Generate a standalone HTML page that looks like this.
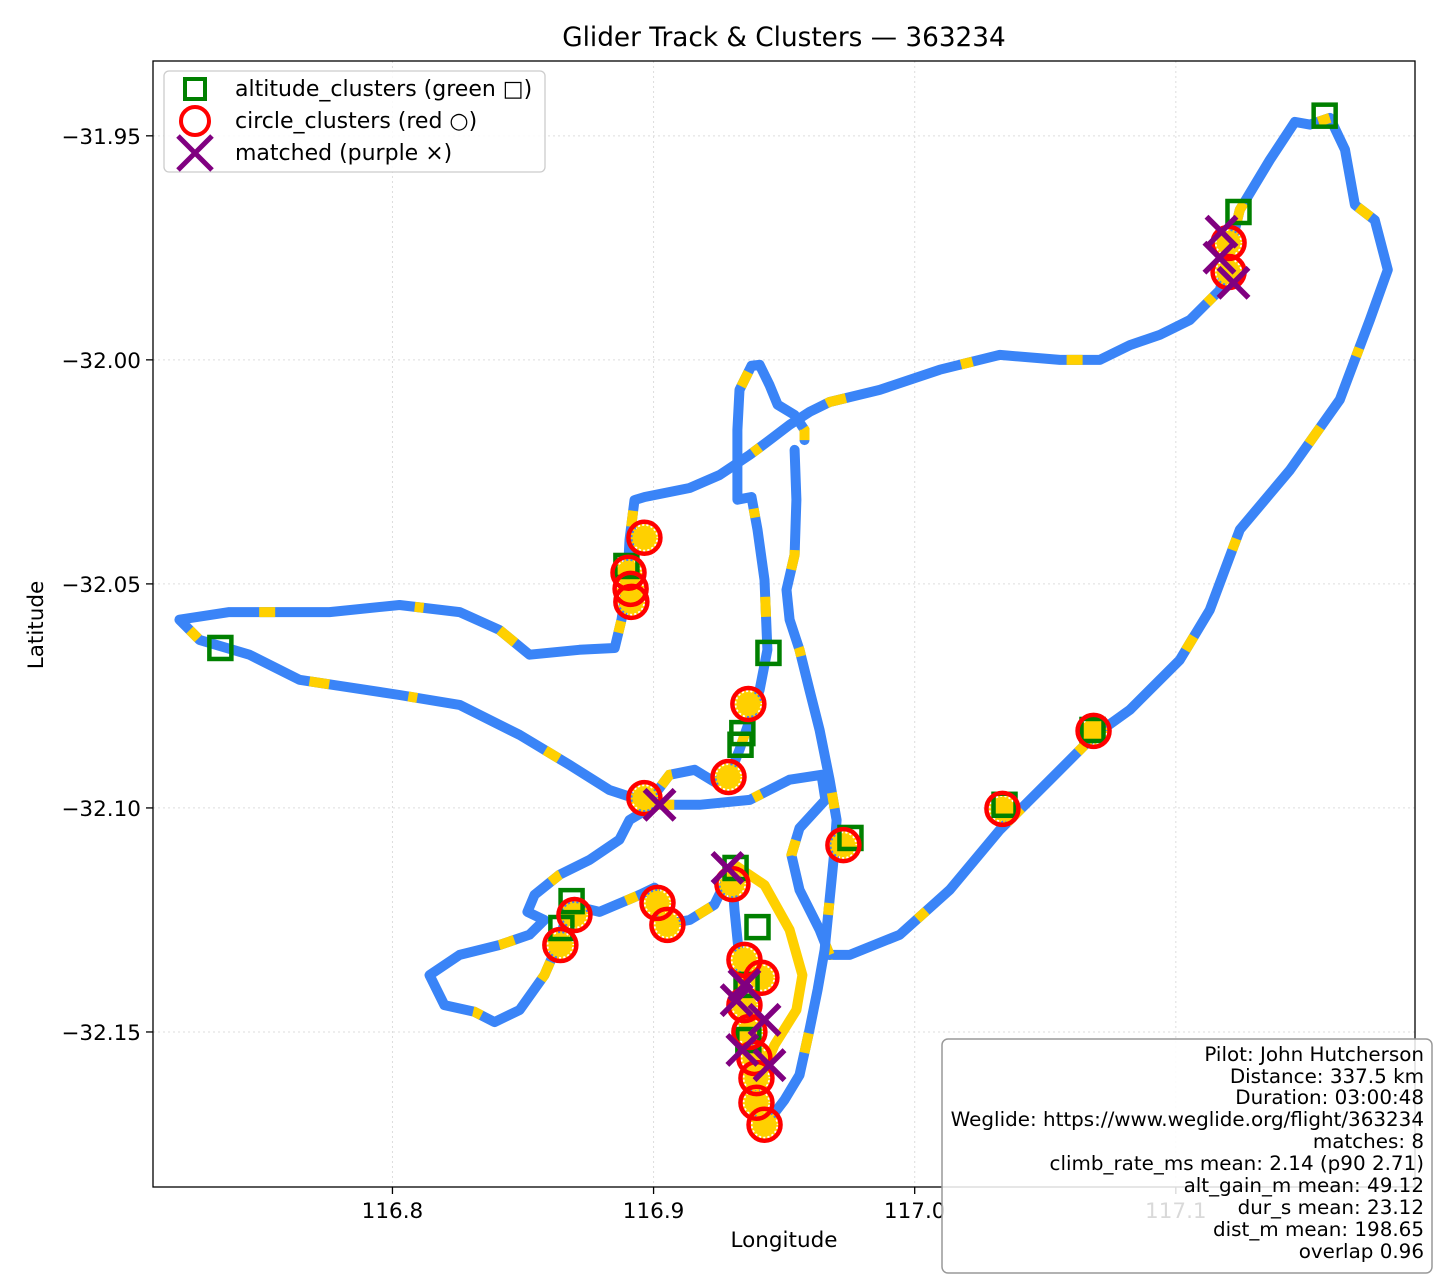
<!DOCTYPE html>
<html><head><meta charset="utf-8"><title>Glider Track & Clusters</title>
<style>
html,body{margin:0;padding:0;background:#fff;}
svg{display:block;font-family:"DejaVu Sans","Liberation Sans",sans-serif;}
</style></head>
<body>
<svg id="chart" width="1440" height="1280" viewBox="0 0 1440 1280" xmlns="http://www.w3.org/2000/svg">
<rect x="0" y="0" width="1440" height="1280" fill="#fff"/>
<text x="784" y="46" font-size="26.3" text-anchor="middle" fill="#000">Glider Track &amp; Clusters — 363234</text>
<g id="grid"></g>
<g id="track"></g>
<g id="marks"></g>
<rect x="153" y="61" width="1262" height="1126" fill="none" stroke="#000" stroke-width="1.3"/>
<g id="ticks"></g>
<text x="784" y="1247" font-size="21.5" text-anchor="middle">Longitude</text>
<text transform="translate(43,625) rotate(-90)" font-size="21.5" text-anchor="middle">Latitude</text>
<g>
<rect x="164" y="71" width="381" height="101" rx="5" fill="#fff" fill-opacity="0.85" stroke="#ccc" stroke-width="1.3"/>
<rect x="185" y="79" width="20" height="20" fill="none" stroke="#008000" stroke-width="4"/>
<text x="235" y="96" font-size="22">altitude_clusters (green □)</text>
<circle cx="195" cy="121" r="14" fill="none" stroke="#f00" stroke-width="4"/>
<text x="235" y="128" font-size="22">circle_clusters (red ○)</text>
<path d="M178,136 L212,170 M212,136 L178,170" stroke="#800080" stroke-width="5"/>
<text x="235" y="160" font-size="22">matched (purple ×)</text>
</g>
<g font-size="19.9" text-anchor="end">
<rect x="942" y="1039" width="490" height="234" rx="6" fill="#fff" fill-opacity="0.85" stroke="#999" stroke-width="1.5"/>
<text x="1424" y="1061">Pilot: John Hutcherson</text>
<text x="1424" y="1083">Distance: 337.5 km</text>
<text x="1424" y="1104">Duration: 03:00:48</text>
<text x="1424" y="1126">Weglide: https://www.weglide.org/flight/363234</text>
<text x="1424" y="1148">matches: 8</text>
<text x="1424" y="1170">climb_rate_ms mean: 2.14 (p90 2.71)</text>
<text x="1424" y="1192">alt_gain_m mean: 49.12</text>
<text x="1424" y="1214">dur_s mean: 23.12</text>
<text x="1424" y="1236">dist_m mean: 198.65</text>
<text x="1424" y="1258">overlap 0.96</text>
</g>
</svg>
<script>
const xTicks=[116.8,116.9,117.0,117.1];
const xTickLabels=["116.8","116.9","117.0","117.1"];
const yTicks=[-31.95,-32.00,-32.05,-32.10,-32.15];
const yTickLabels=["−31.95","−32.00","−32.05","−32.10","−32.15"];
const trackLon1=[116.9004,116.8831,116.8678,116.8487,116.8257,116.8027,116.7644,116.7452,116.7261,116.7184,116.7375,116.7759,116.8027,116.8257,116.8410,116.8525,116.8716,116.8851,116.8877,116.8900,116.8908,116.8927,116.8966,116.9138,116.9253,116.9368,116.9444,116.9521,116.9598,116.9674,116.9866,117.0096,117.0326,117.0556,117.0709,117.0824,117.0939,117.1054,117.1169,117.1245,117.1360,117.1456,117.1513,117.1590,117.1648,117.1686,117.1762,117.1812,117.1743,117.1628,117.1437,117.1245,117.1130,117.1015,117.0824,117.0690,117.0517,117.0326,117.0134,116.9943,116.9751,116.9674];
const trackLat1=[-32.0993,-32.0960,-32.0904,-32.0837,-32.0770,-32.0748,-32.0714,-32.0658,-32.0625,-32.0580,-32.0563,-32.0563,-32.0547,-32.0563,-32.0603,-32.0658,-32.0647,-32.0643,-32.0580,-32.0491,-32.0402,-32.0313,-32.0306,-32.0286,-32.0257,-32.0212,-32.0179,-32.0145,-32.0116,-32.0094,-32.0067,-32.0022,-31.9989,-32.0000,-32.0000,-31.9967,-31.9944,-31.9911,-31.9844,-31.9665,-31.9554,-31.9469,-31.9475,-31.9460,-31.9531,-31.9654,-31.9688,-31.9799,-31.9911,-32.0089,-32.0246,-32.0379,-32.0558,-32.0670,-32.0781,-32.0837,-32.0938,-32.1049,-32.1183,-32.1283,-32.1328,-32.1328];
const trackLon2=[116.9674,116.9636,116.9559,116.9528,116.9559,116.9658,116.9643,116.9521,116.9368,116.9176,116.9004,116.8908,116.8869,116.8755,116.8640,116.8544,116.8517,116.8582,116.8525,116.8410,116.8257,116.8142,116.8199,116.8314,116.8391,116.8487,116.8582,116.8640,116.8678,116.8793,116.8946,116.9004,116.9030,116.9138,116.9233,116.9298];
const trackLat2=[-32.1328,-32.1272,-32.1183,-32.1105,-32.1045,-32.0982,-32.0926,-32.0937,-32.0982,-32.0993,-32.0993,-32.1027,-32.1071,-32.1116,-32.1149,-32.1194,-32.1232,-32.1250,-32.1283,-32.1306,-32.1328,-32.1373,-32.1440,-32.1455,-32.1478,-32.1451,-32.1373,-32.1295,-32.1216,-32.1232,-32.1194,-32.1178,-32.1261,-32.1250,-32.1216,-32.1138];
const trackLon3=[116.9298,116.9310,116.9329,116.9348,116.9375,116.9413,116.9501,116.9559,116.9597,116.9628,116.9655,116.9674,116.9693,116.9701,116.9674,116.9636,116.9597,116.9559,116.9521,116.9509,116.9540,116.9547,116.9540];
const trackLat3=[-32.1138,-32.1228,-32.1339,-32.1451,-32.1585,-32.1719,-32.1652,-32.1596,-32.1495,-32.1406,-32.1317,-32.1205,-32.1094,-32.1027,-32.0937,-32.0826,-32.0737,-32.0647,-32.0580,-32.0513,-32.0435,-32.0312,-32.0201];
const trackLon4=[116.9578,116.9578,116.9540,116.9475,116.9444,116.9406,116.9375,116.9329,116.9321,116.9321,116.9375,116.9398,116.9425,116.9436,116.9406,116.9368,116.9329,116.9291,116.9233,116.9157,116.9061,116.9004];
const trackLat4=[-32.0179,-32.0156,-32.0123,-32.0100,-32.0056,-32.0011,-32.0013,-32.0067,-32.0156,-32.0312,-32.0306,-32.0379,-32.0491,-32.0647,-32.0737,-32.0804,-32.0870,-32.0926,-32.0942,-32.0915,-32.0926,-32.0970];
const trackLon5=[116.9310,116.9425,116.9521,116.9570,116.9547,116.9463,116.9406];
const trackLat5=[-32.1127,-32.1172,-32.1272,-32.1373,-32.1451,-32.1529,-32.1607];
const circleLon=[116.8965,116.8904,116.8912,116.8915,116.9363,116.9287,116.8965,117.0685,117.0336,116.9727,116.9015,116.9053,116.8643,116.8697,116.9302,116.9348,116.9413,116.9348,116.9367,116.9386,116.9394,116.9394,116.9425,117.1202,117.1202];
const circleLat=[-32.0397,-32.0475,-32.0511,-32.0540,-32.0768,-32.0931,-32.0978,-32.0828,-32.1002,-32.1083,-32.1212,-32.1261,-32.1306,-32.1239,-32.1170,-32.1339,-32.1379,-32.1440,-32.1500,-32.1558,-32.1603,-32.1658,-32.1707,-31.9739,-31.9804];
const squareLon=[117.1240,117.1570,116.7341,116.9440,116.9340,116.9333,116.9754,117.0344,117.0681,116.8686,116.8647,116.9314,116.9398,116.9356,116.9363,116.8896];
const squareLat=[-31.9670,-31.9455,-32.0643,-32.0654,-32.0833,-32.0859,-32.1067,-32.0993,-32.0826,-32.1208,-32.1268,-32.1134,-32.1266,-32.1395,-32.1518,-32.0460];
const matchLon=[117.1175,117.1221,117.1167,116.9023,116.9283,116.9348,116.9318,116.9425,116.9340,116.9444];
const matchLat=[-31.9714,-31.9828,-31.9772,-32.0993,-32.1134,-32.1395,-32.1429,-32.1473,-32.1540,-32.1574];

const X0=153,X1=1415,Y0=61,Y1=1187;
const LON0=116.7083,LON1=117.1916,LAT0=-31.9333,LAT1=-32.1846;
function sx(v){return X0+(v-LON0)/(LON1-LON0)*(X1-X0);}
function sy(v){return Y0+(v-LAT0)/(LAT1-LAT0)*(Y1-Y0);}
const NS="http://www.w3.org/2000/svg";
function mk(tag,attrs,parent){const e=document.createElementNS(NS,tag);for(const k in attrs)e.setAttribute(k,attrs[k]);parent.appendChild(e);return e;}
const grid=document.getElementById('grid'),ticks=document.getElementById('ticks'),track=document.getElementById('track'),marks=document.getElementById('marks');
xTicks.forEach((t,i)=>{const x=sx(t);
 const g=mk('line',{x1:x,x2:x,y1:Y0,y2:Y1,stroke:'#ddd','stroke-width':1,'stroke-dasharray':'2 3'},grid);
 
 
 const tk=mk('line',{x1:x,x2:x,y1:Y1,y2:Y1+7,stroke:'#000','stroke-width':1.3},ticks);
 
 
 const tx=mk('text',{x:x,y:Y1+31,'font-size':21.5,'text-anchor':'middle'},ticks);tx.textContent=xTickLabels[i];
 
 
});
yTicks.forEach((t,i)=>{const y=sy(t);
 const g=mk('line',{x1:X0,x2:X1,y1:y,y2:y,stroke:'#ddd','stroke-width':1,'stroke-dasharray':'2 3'},grid);
 
 
 const tk=mk('line',{x1:X0-7,x2:X0,y1:y,y2:y,stroke:'#000','stroke-width':1.3},ticks);
 
 
 const tx=mk('text',{x:X0-12,y:y+8,'font-size':21.5,'text-anchor':'end'},ticks);tx.textContent=yTickLabels[i];
 
 
});
function pts(lo,la){return lo.map((v,i)=>sx(v).toFixed(1)+','+sy(la[i]).toFixed(1)).join(' ');}
const segs=[[trackLon1,trackLat1],[trackLon2,trackLat2],[trackLon3,trackLat3],[trackLon4,trackLat4]];
segs.forEach(s=>{
 const p=mk('polyline',{points:pts(s[0],s[1]),fill:'none',stroke:'#3a84f7','stroke-width':10,'stroke-linejoin':'round','stroke-linecap':'round'},track);
 
 
 const y=mk('polyline',{points:pts(s[0],s[1]),fill:'none',stroke:'#ffd000','stroke-width':10,'stroke-dasharray':'12 95 16 140 9 80 20 120'},track);
 
 
});
const s5=mk('polyline',{points:pts(trackLon5,trackLat5),fill:'none',stroke:'#ffd000','stroke-width':10,'stroke-linejoin':'round','stroke-linecap':'round'},track);


circleLon.forEach((v,i)=>{
 const b=mk('circle',{cx:sx(v),cy:sy(circleLat[i]),r:12,fill:'#ffd000',stroke:'#ffd000','stroke-width':4,'stroke-dasharray':'2 2'},track);
 
 
});
squareLon.forEach((v,i)=>{
 const r=mk('rect',{x:sx(v)-11,y:sy(squareLat[i])-11,width:22,height:22,fill:'none',stroke:'#008000','stroke-width':4.5},marks);
 
 
});
circleLon.forEach((v,i)=>{
 const c=mk('circle',{cx:sx(v),cy:sy(circleLat[i]),r:16,fill:'none',stroke:'#f00','stroke-width':4.5},marks);
 
 
});
matchLon.forEach((v,i)=>{const x=sx(v),y=sy(matchLat[i]);
 const m=mk('path',{d:`M${x-15},${y-15}L${x+15},${y+15}M${x+15},${y-15}L${x-15},${y+15}`,stroke:'#800080','stroke-width':5.5},marks);
 
 
});
</script>
</body></html>
